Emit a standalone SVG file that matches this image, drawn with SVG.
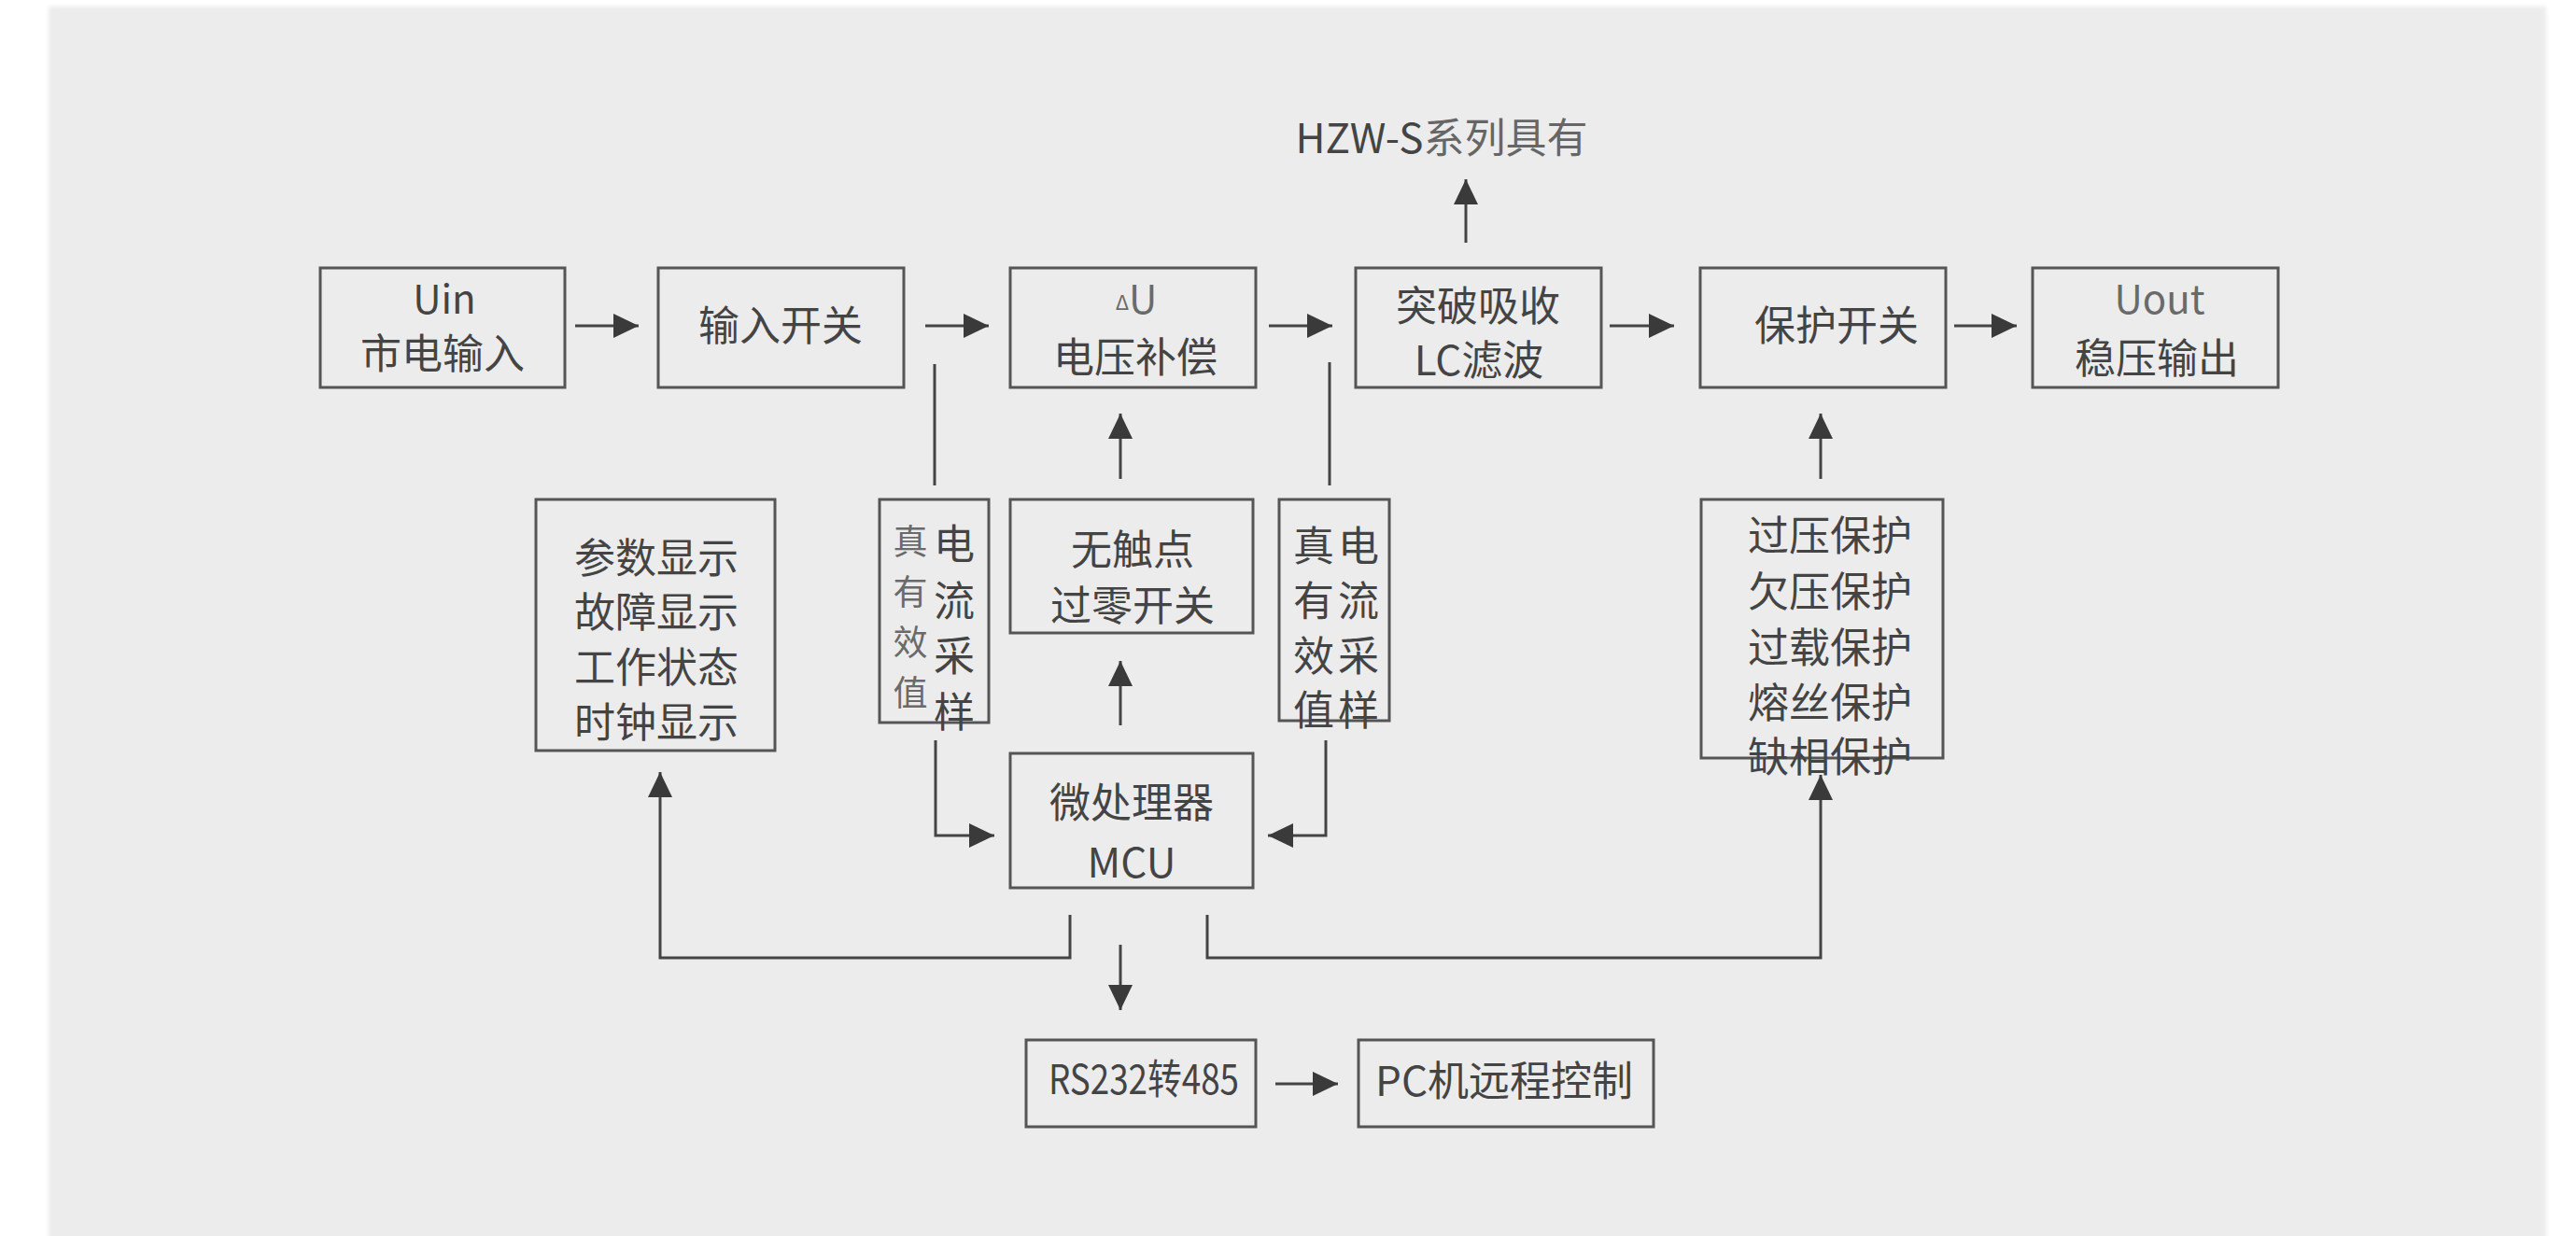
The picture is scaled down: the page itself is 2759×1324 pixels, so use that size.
<svg xmlns="http://www.w3.org/2000/svg" width="2759" height="1324" viewBox="0 0 2759 1324">
<defs>
<style>
.box{fill:none;stroke:#555;stroke-width:3}
.ln{fill:none;stroke:#444;stroke-width:3}
.ar{fill:none;stroke:#444;stroke-width:3;marker-end:url(#ah)}
text{font-family:"Noto Sans CJK SC","Microsoft YaHei","Noto Sans",sans-serif;fill:#444;font-size:44px;text-anchor:middle}
.lt{fill:#6a6a6a}
.sm{font-size:42px}
.col{font-size:37px}
</style>
<marker id="ah" markerUnits="userSpaceOnUse" markerWidth="28" markerHeight="28" refX="27" refY="13" orient="auto">
<path d="M0,0 L27,13 L0,26 z" fill="#3a3a3a"/>
</marker>
<filter id="soft" x="-1%" y="-1%" width="102%" height="102%"><feGaussianBlur stdDeviation="2"/></filter>
</defs>
<rect x="0" y="0" width="2759" height="1324" fill="#ffffff"/>
<rect x="52" y="7" width="2675" height="1340" fill="#ececec" filter="url(#soft)"/>

<g id="n-uin"><rect class="box" x="343" y="287" width="262" height="128"/><text class="sm" x="476" y="336" fill="#555">Uin</text><text x="474" y="395">市电输入</text></g>
<g id="n-inswitch"><rect class="box" x="705" y="287" width="263" height="128"/><text x="836" y="365">输入开关</text></g>
<g id="n-comp"><rect class="box" x="1082" y="287" width="263" height="128"/><text class="sm lt" x="1217" y="336"><tspan font-size="22" dy="-4">Δ</tspan><tspan dy="4">U</tspan></text><text x="1216" y="399">电压补偿</text></g>
<g id="n-lc"><rect class="box" x="1452" y="287" width="263" height="128"/><text x="1583" y="344">突破吸收</text><text x="1584" y="402">LC滤波</text></g>
<g id="n-protsw"><rect class="box" x="1821" y="287" width="263" height="128"/><text x="1967" y="365">保护开关</text></g>
<g id="n-uout"><rect class="box" x="2177" y="287" width="263" height="128"/><text class="sm lt" x="2313" y="336">Uout</text><text x="2310" y="400">稳压输出</text></g>
<g id="n-hzw"><text x="1544" y="164" font-size="46">HZW-S<tspan fill="#666">系列具有</tspan></text></g>

<g id="n-display"><rect class="box" x="574" y="535" width="256" height="269"/>
<text x="703" y="614">参数显示</text><text x="703" y="672">故障显示</text><text x="703" y="731">工作状态</text><text x="703" y="790">时钟显示</text></g>
<g id="n-isample1"><rect class="box" x="942" y="535" width="117" height="239"/>
<text class="lt col" x="975" y="594">真</text><text class="lt col" x="975" y="648">有</text><text class="lt col" x="975" y="702">效</text><text class="lt col" x="975" y="756">值</text>
<text x="1022" y="599">电</text><text x="1022" y="660">流</text><text x="1022" y="719">采</text><text x="1022" y="779">样</text></g>
<g id="n-zcs"><rect class="box" x="1082" y="535" width="260" height="143"/><text x="1213" y="605">无触点</text><text x="1213" y="665">过零开关</text></g>
<g id="n-isample2"><rect class="box" x="1370" y="535" width="118" height="237"/>
<text x="1407" y="601">真</text><text x="1407" y="660">有</text><text x="1407" y="719">效</text><text x="1407" y="777">值</text>
<text x="1455" y="601">电</text><text x="1455" y="660">流</text><text x="1455" y="719">采</text><text x="1455" y="777">样</text></g>
<g id="n-prot"><rect class="box" x="1822" y="535" width="259" height="277"/>
<text x="1960" y="590">过压保护</text><text x="1960" y="650">欠压保护</text><text x="1960" y="710">过载保护</text><text x="1960" y="769">熔丝保护</text><text x="1960" y="827">缺相保护</text></g>

<g id="n-mcu"><rect class="box" x="1082" y="807" width="260" height="144"/><text x="1212" y="876">微处理器</text><text x="1212" y="940">MCU</text></g>
<g id="n-rs"><rect class="box" x="1099" y="1114" width="246" height="93"/><text x="1225" y="1172" font-size="42" textLength="204" lengthAdjust="spacingAndGlyphs">RS232转485</text></g>
<g id="n-pc"><rect class="box" x="1455" y="1114" width="316" height="93"/><text x="1611" y="1174">PC机远程控制</text></g>

<g id="connectors">
<line class="ar" x1="616" y1="349" x2="684" y2="349"/>
<line class="ar" x1="991" y1="349" x2="1059" y2="349"/>
<line class="ar" x1="1359" y1="349" x2="1427" y2="349"/>
<line class="ar" x1="1724" y1="349" x2="1793" y2="349"/>
<line class="ar" x1="2093" y1="349" x2="2160" y2="349"/>
<line class="ar" x1="1570" y1="260" x2="1570" y2="192"/>
<line class="ln" x1="1001" y1="390" x2="1001" y2="520"/>
<line class="ln" x1="1424" y1="388" x2="1424" y2="520"/>
<line class="ar" x1="1200" y1="513" x2="1200" y2="443"/>
<line class="ar" x1="1950" y1="513" x2="1950" y2="443"/>
<line class="ar" x1="1200" y1="777" x2="1200" y2="708"/>
<polyline class="ar" points="1002,793 1002,895 1065,895"/>
<polyline class="ar" points="1420,793 1420,895 1358,895"/>
<polyline class="ar" points="1146,980 1146,1026 707,1026 707,827"/>
<polyline class="ar" points="1293,980 1293,1026 1950,1026 1950,830"/>
<line class="ar" x1="1200" y1="1012" x2="1200" y2="1082"/>
<line class="ar" x1="1366" y1="1161" x2="1433" y2="1161"/>
</g>
</svg>
